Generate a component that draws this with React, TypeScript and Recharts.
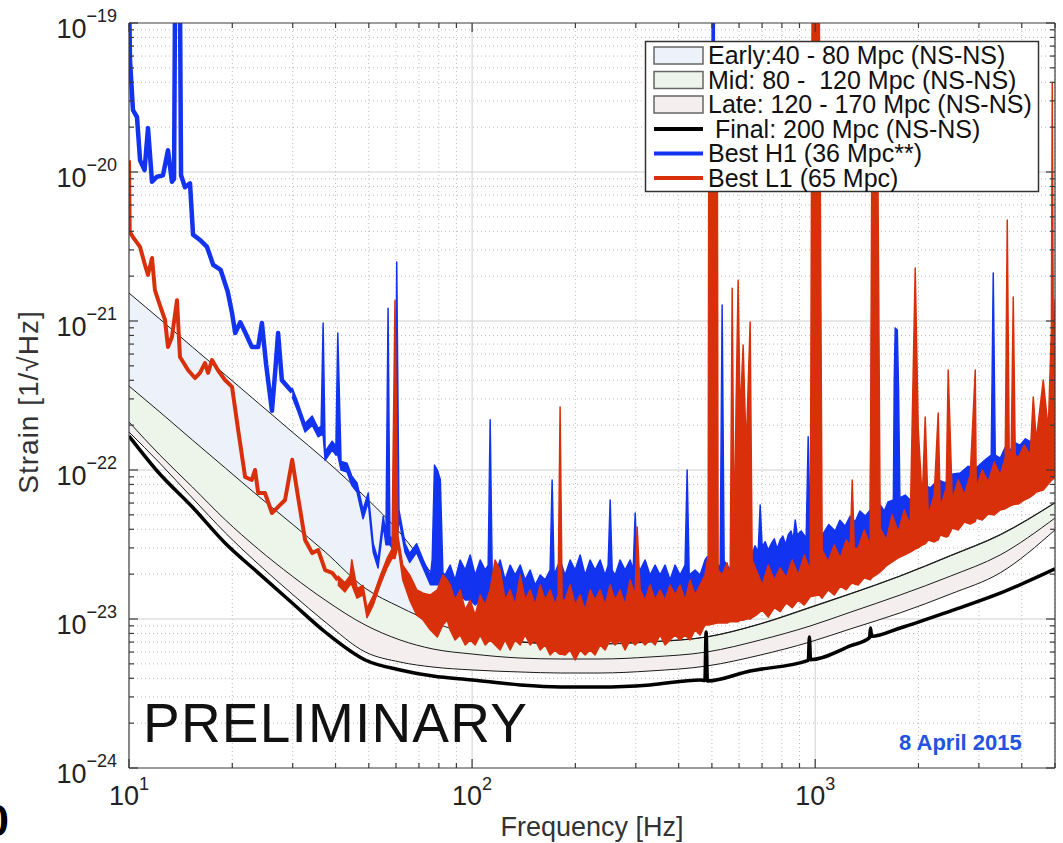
import React from 'react';
import { ComposedChart, Line, Area, XAxis, YAxis, CartesianGrid } from 'recharts';

const W = 1063;
const H = 843;
const FONT = '"Liberation Sans", Arial, Helvetica, sans-serif';
const AXIS = '#3a3a3a';
const TXT = '#222';
const BLUE = '#1234f0';
const RED = '#d9300c';
const EARLY_FILL = '#edf2fa';
const MID_FILL = '#edf4ea';
const LATE_FILL = '#f5eeef';

// ---- axis ticks ----
const xMajorTicks = [10, 100, 1000];
const xMinorTicks = [20, 30, 40, 50, 60, 70, 80, 90, 200, 300, 400, 500, 600, 700, 800, 900, 2000, 3000, 4000, 5000];
const yMajorTicks = [1e-24, 1e-23, 1e-22, 1e-21, 1e-20, 1e-19];
const yMinorTicks = [
  2e-24, 3e-24, 4e-24, 5e-24, 6e-24, 7e-24, 8e-24, 9e-24,
  2e-23, 3e-23, 4e-23, 5e-23, 6e-23, 7e-23, 8e-23, 9e-23,
  2e-22, 3e-22, 4e-22, 5e-22, 6e-22, 7e-22, 8e-22, 9e-22,
  2e-21, 3e-21, 4e-21, 5e-21, 6e-21, 7e-21, 8e-21, 9e-21,
  2e-20, 3e-20, 4e-20, 5e-20, 6e-20, 7e-20, 8e-20, 9e-20,
];

// ---- design sensitivity curves (strain / sqrt(Hz)) ----
const curveFreq = [10, 12.3, 15.3, 19.1, 23.8, 29.9, 37.3, 48.8, 61.7, 76.9, 100, 138, 181, 236, 330, 484, 692, 966, 1265, 1770, 2478, 3460, 5000];
const curve40 = [1.54e-21, 1.03e-21, 6.69e-22, 4.34e-22, 2.82e-22, 1.8e-22, 1.17e-22, 6.59e-23, 3.78e-23, 1.97e-23, 8.7e-24, 7.05e-24, 6.85e-24, 6.85e-24, 7.05e-24, 7.6e-24, 9.3e-24, 1.2e-23, 1.48e-23, 1.95e-23, 2.67e-23, 3.69e-23, 6.05e-23];
const curve80 = [3.66e-22, 2.45e-22, 1.59e-22, 1.03e-22, 6.69e-23, 4.34e-23, 2.82e-23, 1.61e-23, 1.2e-23, 9.55e-24, 7.81e-24, 7.01e-24, 6.79e-24, 6.79e-24, 7.01e-24, 7.57e-24, 9.25e-24, 1.19e-23, 1.47e-23, 1.94e-23, 2.65e-23, 3.66e-23, 6.01e-23];
const curve120 = [2.1e-22, 1.26e-22, 7.69e-23, 4.62e-23, 2.95e-23, 1.94e-23, 1.34e-23, 9.12e-24, 7.23e-24, 6.29e-24, 5.82e-24, 5.47e-24, 5.39e-24, 5.39e-24, 5.56e-24, 6.01e-24, 7.23e-24, 8.97e-24, 1.11e-23, 1.45e-23, 1.94e-23, 2.69e-23, 4.76e-23];
const curve170 = [1.8e-22, 1.11e-22, 6.49e-23, 3.78e-23, 2.34e-23, 1.47e-23, 9.55e-24, 6.01e-24, 5.14e-24, 4.76e-24, 4.55e-24, 4.41e-24, 4.34e-24, 4.34e-24, 4.48e-24, 4.84e-24, 5.73e-24, 7.01e-24, 8.57e-24, 1.1e-23, 1.47e-23, 2.04e-23, 3.96e-23];

const finalFreq = [10, 12.15, 15.3, 19.05, 23.8, 29.9, 37.3, 48.8, 61.7, 76.9, 100, 138, 180.6, 236, 330, 462, 477, 481, 485, 646, 955, 962, 969, 1265, 1440, 1450, 1460, 1770, 2478, 3460, 5000];
const finalStrain = [1.69e-22, 9.7e-23, 5.65e-23, 3.24e-23, 2.04e-23, 1.28e-23, 8.18e-24, 5.31e-24, 4.55e-24, 4.14e-24, 3.9e-24, 3.61e-24, 3.5e-24, 3.5e-24, 3.61e-24, 3.9e-24, 3.86e-24, 8.18e-24, 3.84e-24, 4.48e-24, 5.28e-24, 7.57e-24, 5.33e-24, 6.59e-24, 7.5e-24, 8.7e-24, 7.65e-24, 8.7e-24, 1.13e-23, 1.49e-23, 2.17e-23];

// ---- measured spectra: [freq, strain] for the narrow low-frequency part ----
const h1Low: [number, number][] = [
  [10, 1.5e-19], [10.07, 5.6e-20], [10.27, 2.6e-20], [10.55, 2.34e-20], [10.77, 1.2e-20], [11.1, 1.03e-20],
  [11.36, 1.97e-20], [11.67, 8.6e-21], [12.07, 9.3e-21], [12.56, 9.5e-21], [12.99, 1.4e-20], [13.34, 8.6e-21],
  [13.53, 9e-21], [13.62, 1.5e-19], [14.08, 1.5e-19], [14.18, 9.5e-21], [14.56, 7.9e-21], [15.06, 8.4e-21],
  [15.37, 3.8e-21], [16.1, 3.5e-21], [16.88, 3.14e-21], [17.6, 2.38e-21], [18.5, 2.2e-21], [19.4, 1.57e-21],
  [19.97, 1.13e-21], [20.4, 8.3e-22], [21.1, 9.8e-22], [21.8, 8.4e-22], [22.8, 6.7e-22], [23.8, 6.7e-22],
  [24.4, 9.7e-22], [25.1, 5.1e-22], [26.1, 2.5e-22], [26.7, 4.7e-22], [27.2, 8.3e-22], [27.9, 4e-22],
  [29.9, 3.34e-22],
];

// [freq, lower edge, upper edge] for the fuzzy / dense part of the H1 spectrum
const h1Band: [number, number, number][] = [
  [29.9, 3.1e-22, 3.55e-22], [31.1, 2.45e-22, 2.8e-22], [32.6, 1.8e-22, 2.05e-22], [34.2, 2e-22, 2.3e-22],
  [35.6, 1.67e-22, 1.9e-22], [36.3, 1.72e-22, 1.97e-22], [36.8, 1.72e-22, 9.7e-22], [37.3, 1.16e-22, 1.33e-22],
  [39.1, 1.36e-22, 1.56e-22], [40.1, 1.26e-22, 1.44e-22], [40.6, 1.26e-22, 8.3e-22], [41.5, 1e-22, 1.14e-22],
  [43.2, 9.7e-23, 1.11e-22], [44.6, 7.9e-23, 9.1e-23], [46.2, 7.1e-23, 8.2e-23], [48.1, 4.7e-23, 5.4e-23],
  [49.8, 6.1e-23, 7e-23], [51.5, 2.8e-23, 3.2e-23], [53.2, 2.2e-23, 2.5e-23], [55.1, 4.25e-23, 4.9e-23],
  [56.1, 3.15e-23, 3.6e-23], [56.9, 3.15e-23, 1.22e-21], [57.6, 3.15e-23, 3.6e-23], [58.8, 2.95e-23, 3.4e-23],
  [59.6, 3.15e-23, 3.6e-23], [60.3, 3.15e-23, 2.49e-21], [61.2, 4.7e-23, 5.4e-23], [63.8, 2.8e-23, 3.2e-23],
  [65.8, 2.4e-23, 2.75e-23], [68.9, 2.8e-23, 3.2e-23], [72, 2.2e-23, 2.5e-23], [75.6, 1.7e-23, 1.95e-23],
  [76.5, 1.7e-23, 2.5e-23], [77.7, 1.7e-23, 1.08e-22], [79.2, 1.7e-23, 1e-22], [80.8, 1.7e-23, 8.6e-23],
  [82.2, 1.83e-23, 2.04e-23], [83.4, 1.34e-23, 1.97e-23], [86.3, 1.34e-23, 2.3e-23], [89.2, 1.24e-23, 1.83e-23],
  [92.3, 1.45e-23, 2.49e-23], [95.5, 1.34e-23, 2.13e-23], [98.7, 1.34e-23, 2.69e-23], [102.1, 1.24e-23, 1.97e-23],
  [105.6, 1.34e-23, 2.49e-23], [109.2, 1.24e-23, 2.13e-23], [111.4, 1.24e-23, 2.3e-23], [112.9, 1.24e-23, 2.17e-22],
  [114.4, 1.24e-23, 2.13e-23], [116.7, 1.24e-23, 1.97e-23], [120.7, 1.15e-23, 2.49e-23], [124.8, 1.15e-23, 1.83e-23],
  [129.1, 1.06e-23, 2.3e-23], [133.5, 1.15e-23, 1.97e-23], [138.1, 1.06e-23, 2.3e-23], [142.8, 1.06e-23, 1.83e-23],
  [147.6, 9.85e-24, 2.13e-23], [152.7, 1.06e-23, 1.69e-23], [157.9, 9.85e-24, 1.97e-23], [163.3, 1.06e-23, 1.83e-23],
  [168.8, 1.06e-23, 2.13e-23], [171.1, 1.06e-23, 8.57e-23], [173.4, 1.06e-23, 1.97e-23], [180.5, 1.15e-23, 2.49e-23],
  [186.7, 1.15e-23, 1.97e-23], [193.1, 1.24e-23, 2.49e-23], [199.7, 1.15e-23, 2.13e-23], [206.5, 1.24e-23, 2.69e-23],
  [213.5, 1.06e-23, 1.97e-23], [220.8, 1.06e-23, 2.49e-23], [228.3, 9.85e-24, 2.13e-23], [236.1, 1.06e-23, 2.49e-23],
  [244.2, 9.85e-24, 1.97e-23], [249.2, 1e-23, 2.3e-23], [252.6, 1e-23, 6.29e-23], [256, 1e-23, 2.13e-23],
  [261.1, 9.85e-24, 1.97e-23], [270, 1.06e-23, 2.49e-23], [279.2, 1.15e-23, 2.13e-23], [288.8, 1.15e-23, 2.49e-23],
  [294.8, 1.15e-23, 2.13e-23], [298.8, 1.15e-23, 5.14e-23], [302.8, 1.15e-23, 2.3e-23], [308.8, 1.06e-23, 2.13e-23],
  [319.3, 1.06e-23, 2.49e-23], [330.2, 1.06e-23, 1.97e-23], [341.5, 1.15e-23, 2.3e-23], [353.1, 1.15e-23, 1.97e-23],
  [365.1, 1.06e-23, 2.3e-23], [377.6, 1.15e-23, 1.83e-23], [390.5, 1.24e-23, 2.3e-23], [403.8, 1.24e-23, 1.97e-23],
  [417.5, 1.24e-23, 2.3e-23], [423.5, 1.24e-23, 1e-22], [429.3, 1.28e-23, 1.97e-23], [446.5, 1.34e-23, 2.13e-23],
  [461.7, 1.34e-23, 1.97e-23], [477.5, 1.45e-23, 2.49e-23], [484.2, 1.45e-23, 2.61e-23], [497.5, 1.45e-23, 2.61e-23],
  [501, 1.45e-23, 2e-19], [508, 1.45e-23, 2e-19], [511, 1.4e-23, 2.49e-23], [528.4, 1.4e-23, 2.2e-23],
  [535.5, 1.4e-23, 1.28e-21], [542.8, 1.38e-23, 2.45e-23], [553.8, 1.34e-23, 2.3e-23], [569, 1.4e-23, 2.1e-23],
  [584.4, 1.45e-23, 2.69e-23], [600, 1.5e-23, 2.9e-23], [612, 1.5e-23, 2.4e-23], [625, 1.57e-23, 2.9e-23],
  [640, 1.6e-23, 3.2e-23], [655.1, 1.61e-23, 2.7e-23], [668, 1.6e-23, 3.1e-23], [682, 1.61e-23, 2.8e-23],
  [691.3, 1.61e-23, 5.82e-23], [700.6, 1.64e-23, 3.04e-23], [715, 1.64e-23, 3.3e-23], [729.4, 1.69e-23, 2.9e-23],
  [745, 1.7e-23, 3.2e-23], [760, 1.75e-23, 3.45e-23], [775, 1.8e-23, 2.95e-23], [790.7, 1.83e-23, 3.39e-23],
  [805, 1.85e-23, 3.6e-23], [820, 1.9e-23, 3.15e-23], [834.3, 1.97e-23, 3.66e-23], [850, 1.97e-23, 3.9e-23],
  [863, 1.97e-23, 3.4e-23], [874.6, 1.97e-23, 4.62e-23], [886.5, 1.97e-23, 3.66e-23], [910, 1.97e-23, 3.9e-23],
  [941.4, 1.97e-23, 3.5e-23], [954.1, 1.97e-23, 1.67e-22], [967, 1.97e-23, 3.75e-23], [980.2, 1.97e-23, 3.75e-23],
  [986.7, 1.97e-23, 2e-19], [1013.5, 1.97e-23, 2e-19], [1027.3, 1.97e-23, 3.66e-23], [1048.1, 1.97e-23, 3.66e-23],
  [1095, 2.05e-23, 4.3e-23], [1143.8, 2.13e-23, 3.9e-23], [1180, 2.2e-23, 4.6e-23], [1223, 2.3e-23, 4.2e-23],
  [1265, 2.4e-23, 4.9e-23], [1308.3, 2.49e-23, 4.5e-23], [1350, 2.6e-23, 5.3e-23], [1399.3, 2.69e-23, 4.9e-23],
  [1446.8, 2.75e-23, 5.4e-23], [1466.3, 2.75e-23, 2.86e-21], [1486.1, 2.75e-23, 5.4e-23], [1547.2, 2.9e-23, 5.82e-23],
  [1590, 2.95e-23, 5.3e-23], [1630, 3e-23, 6.1e-23], [1690, 3e-23, 6.3e-23], [1700, 3.02e-23, 4e-22],
  [1711.1, 3.04e-23, 8.97e-22], [1735, 3.08e-23, 8.7e-22], [1750, 3.1e-23, 3.4e-22], [1765, 3.14e-23, 6.5e-23],
  [1829.7, 3.24e-23, 6.79e-23], [1892.3, 3.39e-23, 6.29e-23], [1950, 3.5e-23, 7.2e-23], [2023.9, 3.66e-23, 6.79e-23],
  [2090, 3.8e-23, 7.9e-23], [2164.7, 3.96e-23, 7.57e-23], [2280, 4.2e-23, 8.6e-23], [2393.4, 4.48e-23, 8.2e-23],
  [2520, 4.7e-23, 9.4e-23], [2647, 4.99e-23, 9.55e-23], [2790, 5.2e-23, 1.06e-22], [2928, 5.39e-23, 1.02e-22],
  [3130, 5.82e-23, 1.17e-22], [3259.5, 6e-23, 1.26e-22], [3303.6, 6e-23, 2.1e-21], [3348, 6e-23, 1.26e-22],
  [3462, 6.29e-23, 1.2e-22], [3580, 6.5e-23, 1.42e-22], [3703, 6.79e-23, 1.36e-22], [3830, 7e-23, 1.52e-22],
  [3959, 7.34e-23, 1.47e-22], [4100, 7.6e-23, 1.62e-22], [4234, 7.93e-23, 1.55e-22], [4380, 8.2e-23, 1.7e-22],
  [4528, 8.57e-23, 1.67e-22], [4680, 8.9e-23, 1.78e-22], [4842, 9.25e-23, 1.8e-22], [5000, 1e-22, 1.91e-22],
];

const l1Low: [number, number][] = [
  [10, 1.2e-20], [10.05, 3.96e-21], [10.27, 3.66e-21], [10.77, 3.14e-21], [11.13, 2.38e-21], [11.36, 2.04e-21],
  [11.67, 2.65e-21], [11.9, 1.61e-21], [12.3, 1.28e-21], [12.73, 1.02e-21], [12.99, 6.69e-22], [13.34, 7.81e-22],
  [13.8, 1.38e-21], [14.08, 5.73e-22], [14.86, 4.69e-22], [15.57, 4.14e-22], [16.1, 4.48e-22], [16.65, 5.22e-22],
  [17, 4.48e-22], [17.45, 5.47e-22], [18.15, 4.69e-22], [19.05, 4.02e-22], [19.97, 3.61e-22], [20.8, 1.86e-22],
  [21.8, 8.97e-23], [22.8, 8.57e-23], [23.3, 1e-22], [23.8, 7.01e-23], [24.9, 7.01e-23], [26.1, 5.14e-23],
  [27.2, 5.65e-23], [28.5, 6.29e-23], [29.9, 1.17e-22], [31.1, 6.59e-23], [32.6, 3.39e-23], [34.2, 2.77e-23],
  [35.6, 2.9e-23], [37.3, 2.13e-23], [39.1, 2.04e-23], [40.6, 1.83e-23],
];

const l1Band: [number, number, number][] = [
  [40.6, 1.7e-23, 1.95e-23], [42.6, 1.52e-23, 1.75e-23], [44.1, 1.7e-23, 1.95e-23], [44.6, 1.7e-23, 2.5e-23],
  [46.2, 1.38e-23, 1.6e-23], [48.1, 1.45e-23, 1.68e-23], [49.4, 1.02e-23, 1.18e-23], [51.5, 1.24e-23, 1.43e-23],
  [54, 1.7e-23, 1.95e-23], [56.5, 2.2e-23, 2.55e-23], [58.4, 2.55e-23, 2.95e-23], [59.6, 2.55e-23, 1.38e-21],
  [60.8, 3.1e-23, 3.6e-23],
  [62.8, 1.83e-23, 2.3e-23], [65.8, 1.34e-23, 1.97e-23], [69, 1.06e-23, 1.57e-23], [72, 9.85e-24, 1.49e-23],
  [75.6, 8.44e-24, 1.45e-23], [79.2, 7.57e-24, 1.57e-23], [82.2, 9.12e-24, 1.97e-23], [84.6, 9.85e-24, 1.83e-23],
  [86.3, 8.44e-24, 1.69e-23], [89.2, 7.23e-24, 1.34e-23], [92.3, 7.81e-24, 1.57e-23], [95.5, 6.69e-24, 1.15e-23],
  [98.7, 7.23e-24, 1.34e-23], [102.1, 6.69e-24, 1.06e-23], [105.6, 7.81e-24, 1.45e-23], [109.2, 6.69e-24, 1.24e-23],
  [112.9, 7.23e-24, 1.57e-23], [116.7, 6.69e-24, 2.49e-23], [120.7, 6.19e-24, 2.13e-23], [124.8, 7.23e-24, 1.34e-23],
  [129.1, 6.19e-24, 1.57e-23], [133.5, 7.23e-24, 1.24e-23], [138.1, 6.69e-24, 1.97e-23], [142.8, 7.81e-24, 1.34e-23],
  [147.6, 6.69e-24, 1.57e-23], [152.7, 7.23e-24, 1.24e-23], [157.9, 6.19e-24, 1.69e-23], [163.3, 6.69e-24, 1.34e-23],
  [168.8, 5.73e-24, 1.57e-23], [174.6, 6.19e-24, 1.24e-23], [178.1, 5.9e-24, 1.45e-23], [180.5, 5.8e-24, 2.65e-22],
  [183, 5.8e-24, 1.34e-23], [186.7, 5.73e-24, 1.34e-23], [193.1, 6.19e-24, 1.69e-23], [199.7, 5.31e-24, 1.24e-23],
  [206.5, 6.19e-24, 1.45e-23], [213.5, 5.73e-24, 1.15e-23], [220.8, 6.19e-24, 1.57e-23], [228.3, 5.73e-24, 1.34e-23],
  [236.1, 6.69e-24, 1.57e-23], [244.2, 6.19e-24, 1.24e-23], [252.5, 7.23e-24, 1.69e-23], [261.1, 6.69e-24, 1.34e-23],
  [270, 7.23e-24, 1.57e-23], [279.2, 6.19e-24, 1.24e-23], [288.8, 7.23e-24, 1.83e-23], [298.6, 6.69e-24, 1.45e-23],
  [302.8, 6.9e-24, 4.14e-23], [308.8, 7.23e-24, 1.57e-23], [319.3, 6.69e-24, 1.34e-23], [330.2, 7.23e-24, 1.69e-23],
  [341.5, 6.69e-24, 1.34e-23], [353.1, 7.81e-24, 1.57e-23], [365.1, 6.69e-24, 1.34e-23], [377.6, 7.23e-24, 1.69e-23],
  [390.5, 7.81e-24, 1.45e-23], [403.8, 7.23e-24, 1.69e-23], [417.5, 7.81e-24, 1.34e-23], [431.8, 7.23e-24, 1.83e-23],
  [446.5, 8.44e-24, 1.45e-23], [461.7, 7.81e-24, 1.69e-23], [477.5, 9.12e-24, 1.97e-23], [487.5, 9.12e-24, 2.69e-23],
  [490, 9.12e-24, 6e-20], [518, 9.4e-24, 6e-20], [521.3, 9.4e-24, 2.13e-23], [535.5, 9.4e-24, 1.97e-23],
  [553.8, 9.4e-24, 2.38e-23], [565.2, 9.6e-24, 1.83e-23], [572.9, 9.6e-24, 1.66e-21], [580.6, 9.6e-24, 3.39e-23],
  [588.4, 9.6e-24, 2.95e-22], [596.3, 9.6e-24, 1.88e-21], [604.3, 9.8e-24, 2.27e-22], [616.6, 9.8e-24, 6.9e-22],
  [629.2, 1e-23, 1.36e-22], [646.3, 1e-23, 9.85e-22], [655.1, 1.02e-23, 2.49e-23], [673, 1.06e-23, 2.13e-23],
  [700.7, 1.15e-23, 1.69e-23], [729.5, 1.03e-23, 2.3e-23], [759.5, 1.19e-23, 1.83e-23], [790.7, 1.12e-23, 2.2e-23],
  [823.2, 1.28e-23, 1.89e-23], [857, 1.19e-23, 2.49e-23], [892.2, 1.34e-23, 1.97e-23], [928.9, 1.24e-23, 2.69e-23],
  [967.1, 1.41e-23, 2.13e-23], [980, 1.42e-23, 2e-19], [1027, 1.45e-23, 2e-19], [1048.1, 1.38e-23, 2.9e-23],
  [1091.2, 1.57e-23, 2.42e-23], [1136, 1.45e-23, 3.14e-23], [1182.7, 1.66e-23, 2.57e-23], [1231.3, 1.57e-23, 3.39e-23],
  [1265, 1.7e-23, 3.1e-23], [1282.3, 1.74e-23, 8.57e-23], [1300, 1.72e-23, 3e-23], [1334.6, 1.69e-23, 2.99e-23],
  [1389.5, 1.89e-23, 3.96e-23], [1446.6, 1.83e-23, 3.14e-23], [1466, 1.9e-23, 5e-20], [1516.4, 2e-23, 5e-20],
  [1547, 2.07e-23, 4.08e-23], [1611, 2.27e-23, 3.39e-23], [1677, 2.42e-23, 4.99e-23], [1746, 2.57e-23, 3.84e-23],
  [1818, 2.69e-23, 5.39e-23], [1892, 2.81e-23, 4.27e-23], [1956.8, 2.95e-23, 2.27e-21], [1996.6, 3e-23, 1.91e-22],
  [2051, 3.14e-23, 6.29e-23], [2093, 3.2e-23, 2.27e-22], [2136, 3.39e-23, 4.99e-23], [2223, 3.29e-23, 6.79e-23],
  [2283.2, 3.4e-23, 2.41e-22], [2315, 3.66e-23, 5.56e-23], [2410, 3.55e-23, 7.57e-23], [2441.6, 3.6e-23, 4.69e-22],
  [2509, 4.08e-23, 6.29e-23], [2612, 3.96e-23, 8.57e-23], [2719, 4.48e-23, 6.79e-23], [2831, 4.34e-23, 9.25e-23],
  [2928, 4.5e-23, 4.69e-22], [2947, 4.76e-23, 7.57e-23], [3068, 4.62e-23, 1e-22], [3194, 5.07e-23, 8.31e-23],
  [3326, 4.99e-23, 1.13e-22], [3462, 5.39e-23, 9.25e-23], [3580.5, 5.5e-23, 1.21e-22], [3629.3, 5.6e-23, 4.76e-21],
  [3678, 5.7e-23, 1.21e-22], [3727.4, 5.8e-23, 1.36e-22], [3778.1, 5.85e-23, 1.45e-21], [3829.2, 5.9e-23, 1.26e-22],
  [3907, 5.91e-23, 1.21e-22], [4068, 6.29e-23, 1.47e-22], [4235, 6.59e-23, 1.26e-22], [4320.9, 6.8e-23, 3.09e-22],
  [4409, 7.12e-23, 1.59e-22], [4620.5, 7.34e-23, 4.02e-22], [4779, 8.05e-23, 1.86e-22], [4880, 8.5e-23, 8.7e-22],
  [4909.4, 8.6e-23, 3.96e-20], [4940, 8.7e-23, 1.1e-21], [4975, 8.84e-23, 6.9e-22], [5000, 8.9e-23, 1.4e-21],
];

const legendLabels = [
  'Early:40 - 80 Mpc (NS-NS)',
  'Mid: 80 -  120 Mpc (NS-NS)',
  'Late: 120 - 170 Mpc (NS-NS)',
  ' Final: 200 Mpc (NS-NS)',
  'Best H1 (36 Mpc**)',
  'Best L1 (65 Mpc)',
];

// tables for recharts
const curveData = (vals: number[]) => curveFreq.map((f, i) => ({ f, v: vals[i] }));
const bandData = (lo: number[], hi: number[]) => curveFreq.map((f, i) => ({ f, r: [lo[i], hi[i]] }));
const earlyBand = bandData(curve80, curve40);
const midBand = bandData(curve120, curve80);
const lateBand = bandData(curve170, curve120);
const finalData = finalFreq.map((f, i) => ({ f, v: finalStrain[i] }));
const h1LowData = h1Low.map(([f, v]) => ({ f, v }));
const l1LowData = l1Low.map(([f, v]) => ({ f, v }));
const h1BandData = h1Band.map(([f, lo, hi]) => ({ f, r: [lo, hi] }));
const l1BandData = l1Band.map(([f, lo, hi]) => ({ f, r: [lo, hi] }));

const xTicks = [...xMajorTicks, ...xMinorTicks].sort((a, b) => a - b);
const yTicks = [...yMajorTicks, ...yMinorTicks].sort((a, b) => a - b);

const isMajor = (v: number) => Math.abs(Math.log10(v) - Math.round(Math.log10(v))) < 1e-6;
const tickLen = (v: number) => (isMajor(v) ? 9 : 5);

function BottomTick(props: any) {
  const { x, y, payload } = props;
  const v = payload.value;
  return (
    <g>
      <line x1={x} y1={y} x2={x} y2={y - tickLen(v)} stroke={AXIS} strokeWidth={1.2} />
      {isMajor(v) && (
        <text x={x} y={y + 37} textAnchor="middle" fontSize={27} fill={TXT} fontFamily={FONT}>
          10<tspan fontSize={18} dy={-15}>{Math.round(Math.log10(v))}</tspan>
        </text>
      )}
    </g>
  );
}

function TopTick(props: any) {
  const { x, y, payload } = props;
  return <line x1={x} y1={y} x2={x} y2={y + tickLen(payload.value)} stroke={AXIS} strokeWidth={1.2} />;
}

function LeftTick(props: any) {
  const { x, y, payload } = props;
  const v = payload.value;
  return (
    <g>
      <line x1={x} y1={y} x2={x + tickLen(v)} y2={y} stroke={AXIS} strokeWidth={1.2} />
      {isMajor(v) && (
        <text x={x - 12} y={y + 15} textAnchor="end" fontSize={27} fill={TXT} fontFamily={FONT}>
          10<tspan fontSize={18} dy={-16}>{'\u2212' + Math.abs(Math.round(Math.log10(v)))}</tspan>
        </text>
      )}
    </g>
  );
}

function RightTick(props: any) {
  const { x, y, payload } = props;
  return <line x1={x} y1={y} x2={x - tickLen(payload.value)} y2={y} stroke={AXIS} strokeWidth={1.2} />;
}

const xAxisCommon = {
  dataKey: 'f',
  type: 'number' as const,
  scale: 'log' as const,
  domain: [10, 5000],
  allowDataOverflow: true,
  ticks: xTicks,
  interval: 0 as const,
  height: 1,
  tickSize: 0,
  tickMargin: 0,
  tickLine: false,
  axisLine: { stroke: AXIS, strokeWidth: 1.2 },
};

const yAxisCommon = {
  type: 'number' as const,
  scale: 'log' as const,
  domain: [1e-24, 1e-19],
  allowDataOverflow: true,
  ticks: yTicks,
  interval: 0 as const,
  width: 1,
  tickSize: 0,
  tickMargin: 0,
  tickLine: false,
  axisLine: { stroke: AXIS, strokeWidth: 1.2 },
};

function Legend() {
  const rowY = [55.5, 80, 104.5, 129, 153.5, 178];
  const fills = [EARLY_FILL, MID_FILL, LATE_FILL];
  const lineColors = ['#000', BLUE, RED];
  return (
    <g>
      <rect x={645.5} y={41.5} width={393} height={150} fill="#fff" stroke="#333" strokeWidth={1.5} />
      {legendLabels.map((label, i) => (
        <g key={label}>
          {i < 3 ? (
            <rect x={654} y={rowY[i] - 8.5} width={49} height={17} fill={fills[i]} stroke="#666" strokeWidth={1.5} />
          ) : (
            <line x1={654} x2={703} y1={rowY[i]} y2={rowY[i]} stroke={lineColors[i - 3]} strokeWidth={4} />
          )}
          <text x={708} y={rowY[i] + 8.5} fontSize={25} fill="#111" style={{ whiteSpace: 'pre' }}>
            {label}
          </text>
        </g>
      ))}
    </g>
  );
}

export default function App() {
  return (
    <div style={{ position: 'absolute', left: 0, top: 0, width: W, height: H, background: '#fff', overflow: 'hidden', fontFamily: FONT }}>
      <ComposedChart width={W} height={H} margin={{ top: 22, right: 7, bottom: 74, left: 128 }}>
        <CartesianGrid
          xAxisId="b"
          yAxisId="l"
          verticalValues={xMinorTicks}
          horizontalValues={yMinorTicks}
          stroke="#bcbcbc"
          strokeDasharray="1 3"
        />
        <CartesianGrid
          xAxisId="b"
          yAxisId="l"
          verticalValues={[100, 1000]}
          horizontalValues={[1e-23, 1e-22, 1e-21, 1e-20]}
          stroke="#d0d0d0"
        />

        {/* design bands */}
        <Area xAxisId="b" yAxisId="l" data={earlyBand} dataKey="r" type="monotone" fill={EARLY_FILL} fillOpacity={1} stroke="none" isAnimationActive={false} zIndex={10} />
        <Area xAxisId="b" yAxisId="l" data={midBand} dataKey="r" type="monotone" fill={MID_FILL} fillOpacity={1} stroke="none" isAnimationActive={false} zIndex={11} />
        <Area xAxisId="b" yAxisId="l" data={lateBand} dataKey="r" type="monotone" fill={LATE_FILL} fillOpacity={1} stroke="none" isAnimationActive={false} zIndex={12} />
        <Line xAxisId="b" yAxisId="l" data={curveData(curve40)} dataKey="v" type="monotone" stroke="#1a1a1a" strokeWidth={1} dot={false} activeDot={false} isAnimationActive={false} zIndex={20} />
        <Line xAxisId="b" yAxisId="l" data={curveData(curve80)} dataKey="v" type="monotone" stroke="#1a1a1a" strokeWidth={1} dot={false} activeDot={false} isAnimationActive={false} zIndex={21} />
        <Line xAxisId="b" yAxisId="l" data={curveData(curve120)} dataKey="v" type="monotone" stroke="#1a1a1a" strokeWidth={1} dot={false} activeDot={false} isAnimationActive={false} zIndex={22} />
        <Line xAxisId="b" yAxisId="l" data={curveData(curve170)} dataKey="v" type="monotone" stroke="#1a1a1a" strokeWidth={1} dot={false} activeDot={false} isAnimationActive={false} zIndex={23} />
        <Line xAxisId="b" yAxisId="l" data={finalData} dataKey="v" type="monotone" stroke="#000" strokeWidth={3.5} dot={false} activeDot={false} isAnimationActive={false} zIndex={24} />

        {/* H1 */}
        <Line xAxisId="b" yAxisId="l" data={h1LowData} dataKey="v" type="linear" stroke={BLUE} strokeWidth={4.5} strokeLinejoin="round" dot={false} activeDot={false} isAnimationActive={false} zIndex={30} />
        <Area xAxisId="b" yAxisId="l" data={h1BandData} dataKey="r" type="linear" fill={BLUE} fillOpacity={1} stroke={BLUE} strokeWidth={1.5} strokeLinejoin="round" isAnimationActive={false} zIndex={31} />

        {/* L1 */}
        <Line xAxisId="b" yAxisId="l" data={l1LowData} dataKey="v" type="linear" stroke={RED} strokeWidth={4} strokeLinejoin="round" dot={false} activeDot={false} isAnimationActive={false} zIndex={32} />
        <Area xAxisId="b" yAxisId="l" data={l1BandData} dataKey="r" type="linear" fill={RED} fillOpacity={1} stroke={RED} strokeWidth={1.5} strokeLinejoin="round" isAnimationActive={false} zIndex={33} />

        <XAxis xAxisId="b" orientation="bottom" {...xAxisCommon} tick={(p: any) => <BottomTick {...p} />} />
        <XAxis xAxisId="t" orientation="top" {...xAxisCommon} tick={(p: any) => <TopTick {...p} />} />
        <YAxis yAxisId="l" orientation="left" {...yAxisCommon} tick={(p: any) => <LeftTick {...p} />} />
        <YAxis yAxisId="r" orientation="right" {...yAxisCommon} tick={(p: any) => <RightTick {...p} />} />
      </ComposedChart>

      <svg width={W} height={H} style={{ position: 'absolute', left: 0, top: 0, pointerEvents: 'none' }} fontFamily={FONT}>
        <text x={38} y={402} transform="rotate(-90 38 402)" textAnchor="middle" fontSize={28} letterSpacing={1} fill="#333">
          Strain [1/√Hz]
        </text>
        <text x={592} y={836} textAnchor="middle" fontSize={27} fill="#333">
          Frequency [Hz]
        </text>
        <text x={143} y={742} fontSize={55} letterSpacing={1.2} fill="#111">
          PRELIMINARY
        </text>
        <text x={899} y={750} fontSize={22} fontWeight="bold" fill="#2452e0">
          8 April 2015
        </text>
        <text x={9} y={836} textAnchor="end" fontSize={44} fontWeight="bold" fill="#000">
          0
        </text>
        <Legend />
      </svg>
    </div>
  );
}
